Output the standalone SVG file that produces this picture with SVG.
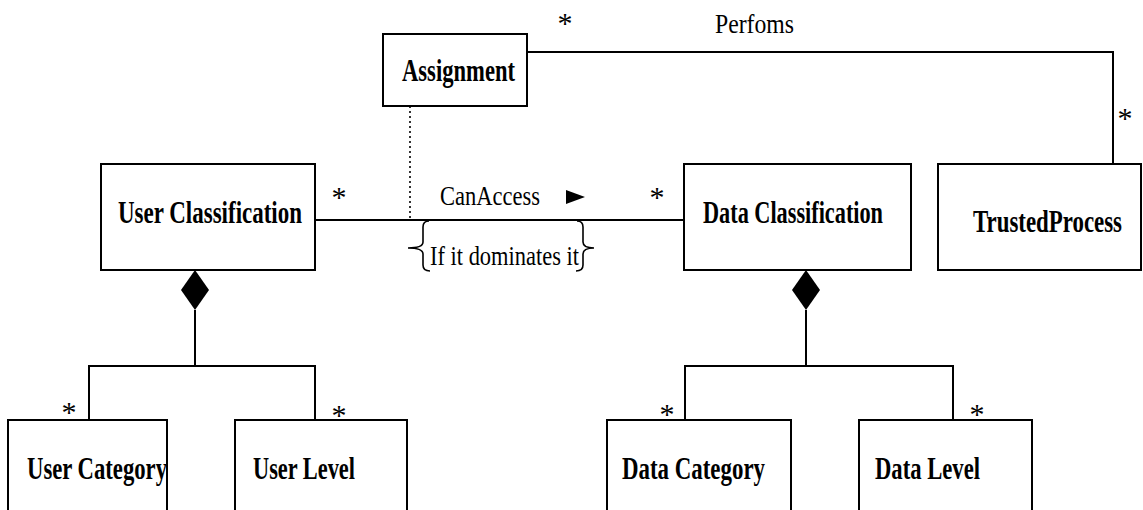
<svg xmlns="http://www.w3.org/2000/svg" width="1143" height="510" viewBox="0 0 1143 510">
  <style>
    .box { fill: #fff; stroke: #000; stroke-width: 2; }
    .name { font-family: "Liberation Serif", "Times New Roman", Times, serif; font-weight: bold; font-size: 32px; fill: #000; }
    .lbl { font-family: "Liberation Serif", "Times New Roman", Times, serif; font-size: 27px; fill: #000; }
    .mult { font-family: "Liberation Serif", "Times New Roman", Times, serif; font-size: 30px; fill: #000; }
    .wire { fill: none; stroke: #000; stroke-width: 2; }
    .dots { fill: none; stroke: #000; stroke-width: 1.6; stroke-dasharray: 2 3; }
    .brace { fill: none; stroke: #000; stroke-width: 1.6; }
  </style>
  <rect width="1143" height="510" fill="#fff"/>

  <!-- connectors -->
  <g id="connectors">
    <!-- Assignment performs TrustedProcess -->
    <path class="wire" d="M527,52 H1113 V164"/>
    <text class="mult" x="565" y="33" text-anchor="middle">*</text>
    <text class="lbl" x="715" y="33" textLength="79" lengthAdjust="spacingAndGlyphs">Perfoms</text>
    <text class="mult" x="1125" y="128" text-anchor="middle">*</text>

    <!-- CanAccess association -->
    <path class="wire" d="M315,220 H684"/>
    <text class="mult" x="339" y="207" text-anchor="middle">*</text>
    <text class="mult" x="657" y="207" text-anchor="middle">*</text>
    <text class="lbl" x="440" y="205" textLength="100" lengthAdjust="spacingAndGlyphs">CanAccess</text>
    <polygon points="566,190 585,197 566,204" fill="#000"/>

    <!-- association class link -->
    <path class="dots" d="M410,106 V218"/>

    <!-- constraint -->
    <path class="brace" d="M429,221 Q423,221 423,227 L423,242 Q423,248 408,248 Q423,248 423,254 L423,265 Q423,271 430,271"/>
    <path class="brace" d="M577,221 Q583,221 583,227 L583,242 Q583,248 594,248 Q583,248 583,254 L583,265 Q583,271 576,271"/>
    <text class="lbl" x="430" y="265" textLength="149" lengthAdjust="spacingAndGlyphs">If it dominates it</text>

    <!-- User Classification composition -->
    <polygon points="195,270 209,290 195,310 181,290" fill="#000"/>
    <path class="wire" d="M195,310 V366 M89,420 V366 H315 V420"/>
    <text class="mult" x="69" y="422" text-anchor="middle">*</text>
    <text class="mult" x="339" y="425" text-anchor="middle">*</text>

    <!-- Data Classification composition -->
    <polygon points="806,270 820,290 806,310 792,290" fill="#000"/>
    <path class="wire" d="M806,310 V366 M685,420 V366 H953 V420"/>
    <text class="mult" x="667" y="424" text-anchor="middle">*</text>
    <text class="mult" x="977" y="424" text-anchor="middle">*</text>
  </g>

  <!-- classes -->
  <g id="assignment">
    <rect class="box" x="383" y="34" width="144" height="72"/>
    <text class="name" x="402" y="81" textLength="113" lengthAdjust="spacingAndGlyphs">Assignment</text>
  </g>
  <g id="user-classification">
    <rect class="box" x="101" y="164" width="214" height="106"/>
    <text class="name" x="118" y="223" textLength="184" lengthAdjust="spacingAndGlyphs">User Classification</text>
  </g>
  <g id="data-classification">
    <rect class="box" x="684" y="164" width="227" height="106"/>
    <text class="name" x="703" y="223" textLength="180" lengthAdjust="spacingAndGlyphs">Data Classification</text>
  </g>
  <g id="trusted-process">
    <rect class="box" x="938" y="164" width="203" height="106"/>
    <text class="name" x="973" y="232" textLength="149" lengthAdjust="spacingAndGlyphs">TrustedProcess</text>
  </g>
  <g id="user-category">
    <rect class="box" x="8" y="420" width="159" height="110"/>
    <text class="name" x="27" y="479" textLength="140" lengthAdjust="spacingAndGlyphs">User Category</text>
  </g>
  <g id="user-level">
    <rect class="box" x="235" y="420" width="172" height="110"/>
    <text class="name" x="253" y="479" textLength="102" lengthAdjust="spacingAndGlyphs">User Level</text>
  </g>
  <g id="data-category">
    <rect class="box" x="607" y="420" width="184" height="110"/>
    <text class="name" x="622" y="479" textLength="143" lengthAdjust="spacingAndGlyphs">Data Category</text>
  </g>
  <g id="data-level">
    <rect class="box" x="859" y="420" width="173" height="110"/>
    <text class="name" x="875" y="479" textLength="105" lengthAdjust="spacingAndGlyphs">Data Level</text>
  </g>
</svg>
